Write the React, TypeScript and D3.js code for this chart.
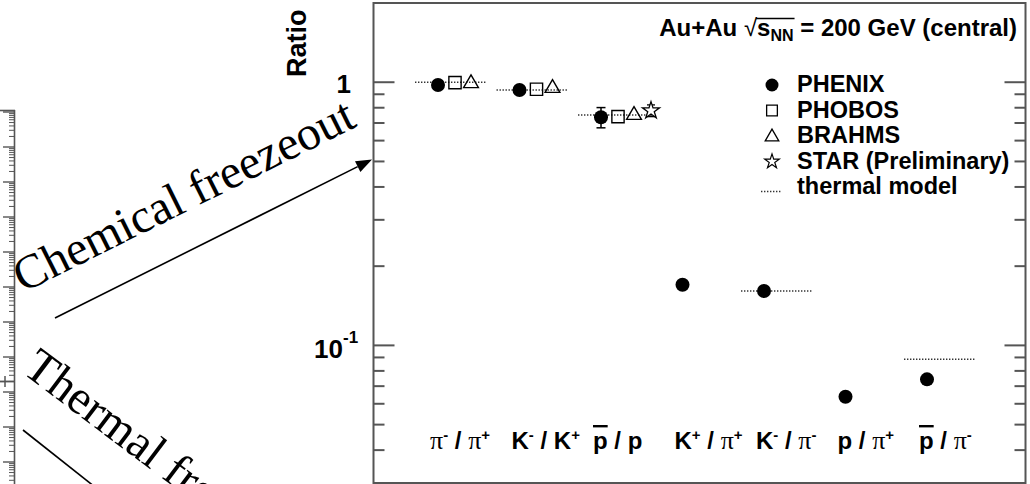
import React, { useLayoutEffect, useRef, useState } from 'react';
import * as d3 from 'd3';

// ---------- data ----------
const categories = ['pi-/pi+', 'K-/K+', 'pbar/p', 'K+/pi+', 'K-/pi-', 'p/pi+', 'pbar/pi-'];
const phenix: (number | null)[] = [0.976, 0.934, 0.736, 0.17, 0.161, 0.0638, 0.0743];
const phenixErr: number[] = [0, 0, 0.065, 0, 0.006, 0, 0];
const phobos: (number | null)[] = [0.996, 0.94, 0.74, null, null, null, null];
const brahms: (number | null)[] = [0.99, 0.95, 0.75, null, null, null, null];
const star: (number | null)[] = [null, null, 0.78, null, null, null, null];
const starErr: number[] = [0, 0, 0.04, 0, 0, 0, 0];
const thermal: (number | null)[] = [1.0, 0.934, 0.75, null, 0.161, null, 0.0886];
const yMajorTicks = [0.1, 1];
const yMinorTicks = [0.03, 0.04, 0.05, 0.06, 0.07, 0.08, 0.09, 0.2, 0.3, 0.4, 0.5, 0.6, 0.7, 0.8, 0.9, 2];
const legendLabels = ['PHENIX', 'PHOBOS', 'BRAHMS', 'STAR (Preliminary)', 'thermal model'];
const titleText = ['Au+Au ', '\u221A', 's', 'NN', ' = 200 GeV (central)'];
const annotations = ['Chemical freezeout', 'Thermal freezeout'];

type Part = { t: string; serif?: boolean; sup?: boolean; bar?: boolean };
const catLabels: Part[][] = [
  [{ t: 'π', serif: true }, { t: '-', sup: true }, { t: ' / ' }, { t: 'π', serif: true }, { t: '+', sup: true }],
  [{ t: 'K' }, { t: '-', sup: true }, { t: ' / K' }, { t: '+', sup: true }],
  [{ t: 'p', bar: true }, { t: ' / p' }],
  [{ t: 'K' }, { t: '+', sup: true }, { t: ' / ' }, { t: 'π', serif: true }, { t: '+', sup: true }],
  [{ t: 'K' }, { t: '-', sup: true }, { t: ' / ' }, { t: 'π', serif: true }, { t: '-', sup: true }],
  [{ t: 'p' }, { t: ' / ' }, { t: 'π', serif: true }, { t: '+', sup: true }],
  [{ t: 'p', bar: true }, { t: ' / ' }, { t: 'π', serif: true }, { t: '-', sup: true }],
];

// left-edge fragment of a neighbouring log axis (decades)
const fragDecades = d3.range(-11, 1);

const W = 1030;
const H = 484;
const SANS = '"Liberation Sans", Arial, Helvetica, sans-serif';
const SERIF = '"Liberation Serif", "Times New Roman", serif';

export default function App() {
  const frame = { x0: 373.5, x1: 1025.5, y0: 3, y1: 483 };
  const y = d3.scaleLog().domain([0.03, 2]).range([frame.y1, frame.y0]);
  const x = d3.scaleLinear().domain([0, categories.length - 1]).range([451, 940]);
  const off = { phenix: -13, phobos: 4, brahms: 20, star: 37 };

  const sym = (type: d3.SymbolType, size: number) => d3.symbol().type(type).size(size)() as string;
  const sqPath = sym(d3.symbolSquare, 150);
  const triPath = sym(d3.symbolTriangle, 95);
  const starPath = sym(d3.symbolStar, 90);
  const sqLeg = sym(d3.symbolSquare, 115);
  const triLeg = sym(d3.symbolTriangle, 80);
  const starLeg = sym(d3.symbolStar, 65);

  const titleRef = useRef<SVGTextElement>(null);
  const [bar, setBar] = useState<{ x0: number; x1: number } | null>(null);
  useLayoutEffect(() => {
    const el = titleRef.current;
    if (!el) return;
    try {
      const a = el.getEndPositionOfChar(6).x - 1;
      const b = el.getEndPositionOfChar(9).x + 1;
      setBar({ x0: a, x1: b });
    } catch (e) {}
  }, []);

  // fragment axis scale
  const fy = d3.scaleLog().domain([1e-11, 1]).range([112 + 35 * 11, 112]);
  const fragTicks: { v: number; major: boolean }[] = [];
  fragDecades.forEach((k) => {
    for (let m = 1; m <= 9; m++) fragTicks.push({ v: m * Math.pow(10, k), major: m === 1 });
  });

  const dot = '1.4,1.6';

  // arrow geometry for chemical freezeout
  const a0 = [55, 318];
  const a1 = [372, 159.5];
  const ang = Math.atan2(a1[1] - a0[1], a1[0] - a0[0]);
  const hl = 16;
  const hw = 6;
  const bx = a1[0] - hl * Math.cos(ang);
  const by = a1[1] - hl * Math.sin(ang);
  const head = `M${a1[0]},${a1[1]}L${bx - hw * Math.sin(ang)},${by + hw * Math.cos(ang)}L${bx + hw * Math.sin(ang)},${by - hw * Math.cos(ang)}Z`;

  const labelY = 449;
  const fs = 24;

  return (
    <svg width={W} height={H} style={{ position: 'absolute', left: 0, top: 0, background: '#fff' }}>
      <rect x={0} y={0} width={W} height={H} fill="#fff" />

      {/* fragment of neighbouring axis */}
      <g stroke="#555" strokeWidth={1}>
        <line x1={14.5} x2={14.5} y1={110} y2={H} strokeWidth={1.6} />
        <line x1={0} x2={15} y1={110.5} y2={110.5} strokeWidth={1.6} />
        {fragTicks.map((t, i) => {
          const yy = fy(t.v);
          if (yy < 111 || yy > H) return null;
          return <line key={i} x1={t.major ? 3 : 9} x2={14.5} y1={yy} y2={yy} strokeWidth={t.major ? 1.4 : 1} />;
        })}
        <line x1={0} x2={15} y1={381.5} y2={381.5} strokeWidth={1.8} />
        <line x1={5} x2={5} y1={376} y2={387} strokeWidth={1.5} />
      </g>

      {/* annotations */}
      <text transform="translate(23,293) rotate(-26.5)" fontFamily={SERIF} fontSize={48} fill="#000">
        {annotations[0]}
      </text>
      <line x1={a0[0]} y1={a0[1]} x2={bx} y2={by} stroke="#000" strokeWidth={1.6} />
      <path d={head} fill="#000" />
      <text transform="translate(21,372) rotate(37)" fontFamily={SERIF} fontSize={48} fill="#000">
        {annotations[1]}
      </text>
      <line x1={23} y1={430} x2={100} y2={491} stroke="#000" strokeWidth={1.6} />

      {/* frame */}
      <rect x={frame.x0} y={frame.y0} width={frame.x1 - frame.x0} height={frame.y1 - frame.y0} fill="none" stroke="#555" strokeWidth={2} />
      <g stroke="#555" strokeWidth={2}>
        {yMajorTicks.map((v) => (
          <g key={'M' + v}>
            <line x1={frame.x0} x2={frame.x0 + 21} y1={y(v)} y2={y(v)} />
            <line x1={frame.x1} x2={frame.x1 - 21} y1={y(v)} y2={y(v)} />
          </g>
        ))}
        {yMinorTicks.map((v) => {
          const yy = y(v);
          if (yy <= frame.y0 + 1 || yy >= frame.y1 - 1) return null;
          return (
            <g key={'m' + v}>
              <line x1={frame.x0} x2={frame.x0 + 11} y1={yy} y2={yy} />
              <line x1={frame.x1} x2={frame.x1 - 11} y1={yy} y2={yy} />
            </g>
          );
        })}
      </g>

      {/* y tick labels */}
      <text x={351} y={y(1) + 11} textAnchor="end" fontFamily={SANS} fontWeight="bold" fontSize={26}>1</text>
      <text x={343} y={y(0.1) + 13} textAnchor="end" fontFamily={SANS} fontWeight="bold" fontSize={26}>10</text>
      <text x={343} y={y(0.1) - 2} textAnchor="start" fontFamily={SANS} fontWeight="bold" fontSize={17}>-1</text>
      <text transform="translate(306,77) rotate(-90)" fontFamily={SANS} fontWeight="bold" fontSize={27}>Ratio</text>

      {/* thermal model lines */}
      {thermal.map((v, i) =>
        v == null ? null : (
          <line key={'th' + i} x1={x(i) - 36} x2={x(i) + 36} y1={y(v)} y2={y(v)} stroke="#333" strokeWidth={1.5} strokeDasharray={dot} />
        )
      )}

      {/* PHENIX */}
      {phenix.map((v, i) =>
        v == null ? null : (
          <g key={'ph' + i}>
            {phenixErr[i] > 0 && (
              <g stroke="#000" strokeWidth={1.5}>
                <line x1={x(i) + off.phenix} x2={x(i) + off.phenix} y1={y(v - phenixErr[i])} y2={y(v + phenixErr[i])} />
                {phenixErr[i] > 0.02 && (
                  <>
                    <line x1={x(i) + off.phenix - 4.5} x2={x(i) + off.phenix + 4.5} y1={y(v - phenixErr[i])} y2={y(v - phenixErr[i])} />
                    <line x1={x(i) + off.phenix - 4.5} x2={x(i) + off.phenix + 4.5} y1={y(v + phenixErr[i])} y2={y(v + phenixErr[i])} />
                  </>
                )}
              </g>
            )}
            <circle cx={x(i) + off.phenix} cy={y(v)} r={7} fill="#000" />
          </g>
        )
      )}
      {/* PHOBOS */}
      {phobos.map((v, i) =>
        v == null ? null : (
          <path key={'pb' + i} d={sqPath} transform={`translate(${x(i) + off.phobos},${y(v)})`} fill="none" stroke="#000" strokeWidth={1.4} />
        )
      )}
      {/* BRAHMS */}
      {brahms.map((v, i) =>
        v == null ? null : (
          <path key={'br' + i} d={triPath} transform={`translate(${x(i) + off.brahms},${y(v)})`} fill="none" stroke="#000" strokeWidth={1.4} />
        )
      )}
      {/* STAR */}
      {star.map((v, i) =>
        v == null ? null : (
          <g key={'st' + i}>
            <g stroke="#000" strokeWidth={1.3}>
              <line x1={x(i) + off.star} x2={x(i) + off.star} y1={y(v - starErr[i])} y2={y(v + starErr[i])} />
              <line x1={x(i) + off.star - 4} x2={x(i) + off.star + 4} y1={y(v - starErr[i])} y2={y(v - starErr[i])} />
              <line x1={x(i) + off.star - 4} x2={x(i) + off.star + 4} y1={y(v + starErr[i])} y2={y(v + starErr[i])} />
            </g>
            <path d={starPath} transform={`translate(${x(i) + off.star},${y(v)})`} fill="#fff" stroke="#000" strokeWidth={1.3} />
          </g>
        )
      )}

      {/* category labels */}
      {catLabels.map((parts, i) => {
        let sup = false;
        return (
          <text key={'cl' + i} x={x(i) - 21} y={labelY} fontFamily={SANS} fontWeight="bold" fontSize={fs} fill="#000">
            {parts.map((p, j) => {
              let dy = 0;
              if (p.sup && !sup) dy = -9;
              if (!p.sup && sup) dy = 9;
              sup = !!p.sup;
              return (
                <tspan
                  key={j}
                  dy={dy}
                  fontFamily={p.serif ? SERIF : SANS}
                  fontWeight={p.serif ? 'normal' : 'bold'}
                  fontSize={p.sup ? 15 : p.serif ? 26 : fs}
                  style={p.bar ? { textDecoration: 'overline' } : undefined}
                >
                  {p.t}
                </tspan>
              );
            })}
          </text>
        );
      })}

      {/* title */}
      <text ref={titleRef} x={1017} y={36} textAnchor="end" fontFamily={SANS} fontWeight="bold" fontSize={24}>
        <tspan>{titleText[0]}</tspan>
        <tspan fontWeight="normal">{titleText[1]}</tspan>
        <tspan>{titleText[2]}</tspan>
        <tspan fontSize={16} dy={5}>{titleText[3]}</tspan>
        <tspan dy={-5}>{titleText[4]}</tspan>
      </text>
      {bar && <line x1={bar.x0} x2={bar.x1} y1={18.5} y2={18.5} stroke="#000" strokeWidth={1.4} />}

      {/* legend */}
      <g fontFamily={SANS} fontWeight="bold" fontSize={23.5}>
        {legendLabels.map((l, i) => (
          <text key={'lg' + i} x={797} y={92 + i * 25.5}>
            {l}
          </text>
        ))}
      </g>
      <circle cx={772} cy={85} r={6.5} fill="#000" />
      <path d={sqLeg} transform={`translate(772,${85 + 25.5})`} fill="none" stroke="#000" strokeWidth={1.3} />
      <path d={triLeg} transform={`translate(772,${86 + 51})`} fill="none" stroke="#000" strokeWidth={1.3} />
      <path d={starLeg} transform={`translate(772,${85 + 76.5})`} fill="none" stroke="#000" strokeWidth={1.2} />
      <line x1={761} x2={782} y1={191.5} y2={191.5} stroke="#333" strokeWidth={1.5} strokeDasharray={dot} />
    </svg>
  );
}
